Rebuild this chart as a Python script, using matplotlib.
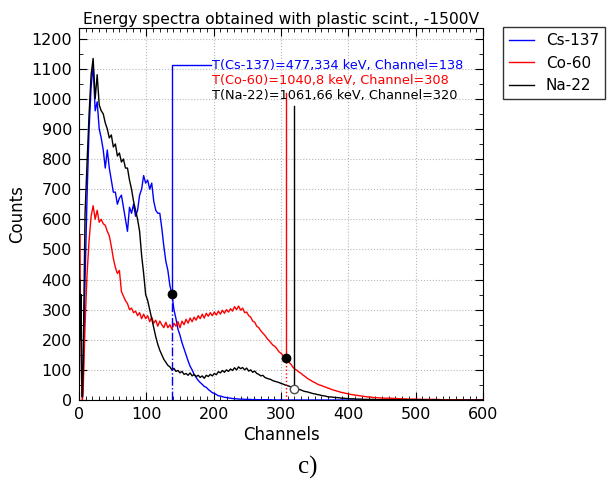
import numpy as np
import matplotlib
matplotlib.use("Agg")
import matplotlib.pyplot as plt
from matplotlib.ticker import MultipleLocator

# channels: first few one by one, then every 3, then every 10 in the tail
channels = [0, 1, 2, 3, 4, 5] + list(range(6, 451, 3)) + list(range(460, 601, 10))

# Cs-137 counts (blue)
cs137 = [150, 380, 250, 330, 60, 10,
         50, 400, 680, 900, 1040, 1112, 960, 990, 900, 870,          # 6-33
         830, 770, 830, 770, 730, 690, 690, 650, 670, 680,           # 36-63
         640, 600, 560, 640, 620, 650, 610, 630, 680, 700,           # 66-93
         745, 720, 730, 700, 720, 660, 630, 620, 620, 570,           # 96-123
         510, 460, 430, 380, 352, 300, 270, 235, 215, 190,           # 126-153
         170, 150, 130, 112, 100, 85, 75, 65, 58, 52,                # 156-183
         45, 42, 35, 30, 24, 22, 18, 14, 13, 11,                     # 186-213
         9, 8, 7, 6, 5, 4, 4, 3, 3, 3,                               # 216-243
         2, 2, 2, 2, 1, 2, 1, 1, 1, 1,                               # 246-273
         1, 1, 0, 1, 0, 1, 0, 0, 1, 0,                               # 276-303
         0, 0, 0, 0, 0, 0, 0, 0, 0, 0,                               # 306-333
         0, 0, 0, 0, 0, 0, 0, 0, 0, 0,                               # 336-363
         0, 0, 0, 0, 0, 0, 0, 0, 0, 0,                               # 366-393
         0, 0, 0, 0, 0, 0, 0, 0, 0, 0,                               # 396-423
         0, 0, 0, 0, 0, 0, 0, 0, 0,                                  # 426-450
         0, 0, 0, 0, 0, 0, 0, 0, 0, 0, 0, 0, 0, 0, 0]                # 460-600

# Co-60 counts (red)
co60 = [100, 550, 300, 200, 50, 0,
        20, 250, 420, 530, 610, 645, 600, 630, 590, 600,             # 6-33
        585, 580, 560, 545, 510, 470, 440, 420, 430, 360,            # 36-63
        345, 330, 320, 300, 305, 290, 295, 280, 290, 270,            # 66-93
        285, 270, 280, 260, 275, 255, 265, 245, 262, 250,            # 96-123
        240, 258, 240, 250, 235, 255, 245, 260, 240, 262,            # 126-153
        250, 268, 255, 272, 260, 275, 265, 280, 270, 285,            # 156-183
        272, 288, 278, 290, 280, 292, 282, 295, 285, 298,            # 186-213
        288, 300, 292, 303, 295, 310, 300, 312, 298, 305,            # 216-243
        290, 292, 280, 275, 262, 258, 245, 240, 230, 222,            # 246-273
        215, 205, 198, 190, 182, 178, 170, 160, 155, 148,            # 276-303
        142, 135, 125, 118, 108, 102, 98, 92, 88, 82,                # 306-333
        78, 72, 68, 64, 60, 57, 53, 50, 48, 45,                      # 336-363
        43, 40, 38, 35, 33, 31, 29, 27, 25, 24,                      # 366-393
        22, 21, 19, 18, 17, 16, 15, 14, 13, 12,                      # 396-423
        11, 10, 10, 9, 8, 8, 7, 7, 6,                                # 426-450
        6, 5, 4, 3, 3, 2, 2, 2, 1, 1, 1, 1, 0, 0, 0]                 # 460-600

# Na-22 counts (black)
na22 = [300, 400, 200, 350, 80, 10,
        100, 620, 790, 950, 1080, 1134, 1000, 1080, 980, 960,        # 6-33
        950, 920, 900, 870, 880, 840, 850, 810, 820, 790,            # 36-63
        800, 770, 770, 730, 700, 660, 630, 600, 560, 480,            # 66-93
        420, 350, 330, 300, 270, 240, 210, 185, 165, 150,            # 96-123
        135, 125, 115, 110, 100, 105, 95, 98, 90, 95,                # 126-153
        85, 88, 82, 90, 80, 85, 78, 82, 75, 80,                      # 156-183
        72, 82, 78, 85, 80, 88, 84, 94, 90, 98,                      # 186-213
        92, 100, 95, 103, 98, 107, 100, 110, 104, 108,               # 216-243
        100, 106, 96, 100, 92, 96, 88, 85, 80, 82,                   # 246-273
        75, 72, 70, 68, 64, 62, 60, 58, 55, 53,                      # 276-303
        50, 48, 46, 43, 42, 40, 37, 35, 33, 30,                      # 306-333
        28, 27, 25, 23, 21, 20, 18, 17, 15, 14,                      # 336-363
        13, 11, 10, 10, 9, 8, 8, 7, 6, 6,                            # 366-393
        5, 5, 4, 4, 4, 3, 3, 3, 3, 2,                                # 396-423
        2, 2, 2, 2, 2, 1, 1, 1, 1,                                   # 426-450
        1, 1, 1, 1, 1, 1, 0, 1, 0, 0, 0, 0, 0, 0, 0]                 # 460-600

# marked points (channel, count) and top of their guide lines
cs_ch, cs_cnt, cs_top = 138, 352, 1112
co_ch, co_cnt, co_top = 308, 140, 1020
na_ch, na_cnt, na_top = 320, 38, 975

cs_txt = "T(Cs-137)=477,334 keV, Channel=138"
co_txt = "T(Co-60)=1040,8 keV, Channel=308"
na_txt = "T(Na-22)=1061,66 keV, Channel=320"

fig = plt.figure(figsize=(6.1, 4.86), dpi=100)
ax = fig.add_axes([79/610, 86/486, 404/610, 372/486])

ax.plot(channels, cs137, color="blue", lw=1, label="Cs-137")
ax.plot(channels, co60, color="red", lw=1, label="Co-60")
ax.plot(channels, na22, color="black", lw=1, label="Na-22")

# guide lines
ax.plot([cs_ch, cs_ch], [0, cs_cnt], color="blue", lw=1, ls="-.")
ax.plot([cs_ch, cs_ch, 196], [cs_cnt, cs_top, cs_top], color="blue", lw=1)
ax.plot([co_ch, co_ch], [0, co_cnt], color="red", lw=1, ls=":")
ax.plot([co_ch, co_ch], [co_cnt, co_top], color="red", lw=1)
ax.plot([na_ch, na_ch], [na_cnt, na_top], color="black", lw=1)
ax.plot([cs_ch, co_ch], [cs_cnt, co_cnt], "o", color="black", ms=6, ls="none")
ax.plot([na_ch], [na_cnt], "o", mfc="white", mec="0.3", ms=6)

ax.text(198, cs_top, cs_txt, color="blue", fontsize=9.3, va="center")
ax.text(198, 1060, co_txt, color="red", fontsize=9.3, va="center")
ax.text(198, 1010, na_txt, color="black", fontsize=9.3, va="center")

ax.set_xlim(0, 600)
ax.set_ylim(0, 1235)
ax.xaxis.set_major_locator(MultipleLocator(100))
ax.xaxis.set_minor_locator(MultipleLocator(10))
ax.yaxis.set_major_locator(MultipleLocator(100))
ax.yaxis.set_minor_locator(MultipleLocator(50))
ax.tick_params(which="both", direction="in", top=True, right=True, labelsize=11.5)
ax.tick_params(which="major", length=6, pad=5)
ax.tick_params(which="minor", length=3)
ax.grid(True, which="major", color="0.72", ls=":", lw=0.8)

ax.set_title("Energy spectra obtained with plastic scint., -1500V", fontsize=11.2, pad=3)
ax.set_xlabel("Channels", fontsize=12, labelpad=3)
ax.set_ylabel("Counts", fontsize=12)

leg = ax.legend(loc="upper left", bbox_to_anchor=(503/610, 1-27/486),
                bbox_transform=fig.transFigure, borderaxespad=0,
                fontsize=11, fancybox=False, handlelength=1.6)
leg.get_frame().set_edgecolor("black")

fig.text(308/610, 1-467/486, "c)", fontsize=18, family="Liberation Serif",
         ha="center", va="center")

fig.savefig("out.png", dpi=100)
